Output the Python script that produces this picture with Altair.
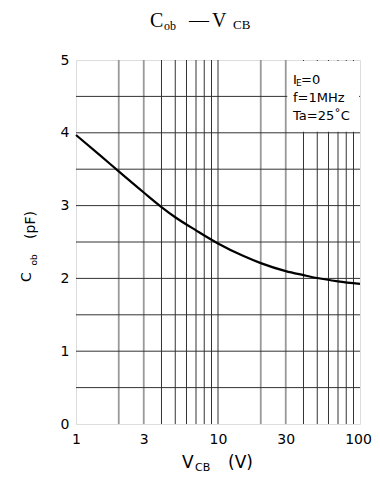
import altair as alt
import pandas as pd

# Curve data
vcb = [1, 1.5, 2, 3, 4, 5, 7, 10, 15, 20, 30, 40, 50, 70, 100]
cob = [3.97, 3.68, 3.47, 3.18, 2.98, 2.84, 2.66, 2.48, 2.31, 2.21, 2.10, 2.045, 2.005, 1.96, 1.925]

# Grid lines
vgrid_dark = [4, 5, 6, 7, 8, 9, 10, 40, 50, 60, 70, 80, 90]
vgrid_light = [2, 3, 20, 30]
hgrid = [0.5, 1, 1.5, 2, 2.5, 3, 3.5, 4, 4.5]

x_ticks = [1, 3, 10, 30, 100]
y_ticks = [0, 1, 2, 3, 4, 5]

SANS = "DejaVu Sans"
SERIF = "Liberation Serif"

xs = alt.Scale(type="log", domain=[1, 100], nice=False)
ys = alt.Scale(domain=[0, 5], nice=False)

x_axis = alt.Axis(values=x_ticks, title=None, grid=False, ticks=False, tickSize=0,
                  domain=False, labelFont=SANS, labelFontSize=14, labelColor="#000",
                  labelPadding=8, labelFlush=False, labelExpr="format(datum.value, 'd')",
                  labelOffset={"condition": {"test": "datum.value == 100", "value": -2}, "value": 0})
y_axis = alt.Axis(values=y_ticks, title=None, grid=False, ticks=False, tickSize=0,
                  domain=False, labelFont=SANS, labelFontSize=14, labelColor="#000",
                  labelPadding=7, labelFlush=False, format="d")

curve_df = pd.DataFrame({"vcb": vcb, "cob": cob})

vdark = alt.Chart(pd.DataFrame({"v": vgrid_dark})).mark_rule(color="#333", strokeWidth=1).encode(
    x=alt.X("v:Q", scale=xs, axis=x_axis))
vlight = alt.Chart(pd.DataFrame({"v": vgrid_light})).mark_rule(color="#999", strokeWidth=1.8).encode(
    x=alt.X("v:Q", scale=xs))
hlines = alt.Chart(pd.DataFrame({"h": hgrid})).mark_rule(color="#333", strokeWidth=1).encode(
    y=alt.Y("h:Q", scale=ys, axis=y_axis))

# white box behind the condition text
box = alt.Chart(pd.DataFrame({"x1": [30], "x2": [100], "y1": [4], "y2": [5]})).mark_rect(
    color="white", xOffset=1.5, x2Offset=-1, yOffset=-1, y2Offset=1).encode(
    x=alt.X("x1:Q", scale=xs), x2="x2:Q", y=alt.Y("y1:Q", scale=ys), y2="y2:Q")

curve = alt.Chart(curve_df).mark_line(color="black", strokeWidth=2.2, interpolate="monotone").encode(
    x=alt.X("vcb:Q", scale=xs), y=alt.Y("cob:Q", scale=ys))


def label(text, x, y, size, font=SANS, angle=0, align="left", baseline="alphabetic"):
    return alt.Chart(pd.DataFrame({"t": [text]})).mark_text(
        font=font, fontSize=size, color="black", angle=angle, align=align, baseline=baseline
    ).encode(x=alt.value(x), y=alt.value(y), text="t:N")


texts = [
    # title
    label("C", 74, -33, 20, SERIF),
    label("ob", 88, -30, 12, SERIF),
    label("\u2014", 113, -33, 20, SERIF),
    label("V", 136, -33, 20, SERIF),
    label("CB", 157, -31, 13, SERIF),
    # conditions
    label("I", 217, 24, 13),
    label("E", 220, 26, 9),
    label("=0", 225, 24, 13),
    label("f=1MHz", 217, 42, 13),
    label("Ta=25\u02daC", 217, 60, 13),
    # x axis title
    label("V", 106, 408, 17),
    label("CB", 119, 411, 11),
    label("(V)", 152, 408, 17),
    # y axis title (rotated)
    label("(pF)", -45, 165, 14, angle=270, align="center", baseline="middle"),
    label("ob", -42, 200, 9, angle=270, align="center", baseline="middle"),
    label("C", -49, 217, 14, angle=270, align="center", baseline="middle"),
]

chart = alt.layer(vdark, vlight, hlines, box, curve, *texts).properties(
    width=284, height=364,
    autosize=alt.AutoSizeParams(type="none"),
    padding={"left": 68, "top": 52, "right": 12, "bottom": 49},
).configure_view(stroke="black", strokeWidth=1.6, fill="white").configure(background="white")

chart.save("out.html", embed_options={"renderer": "svg", "actions": False})
